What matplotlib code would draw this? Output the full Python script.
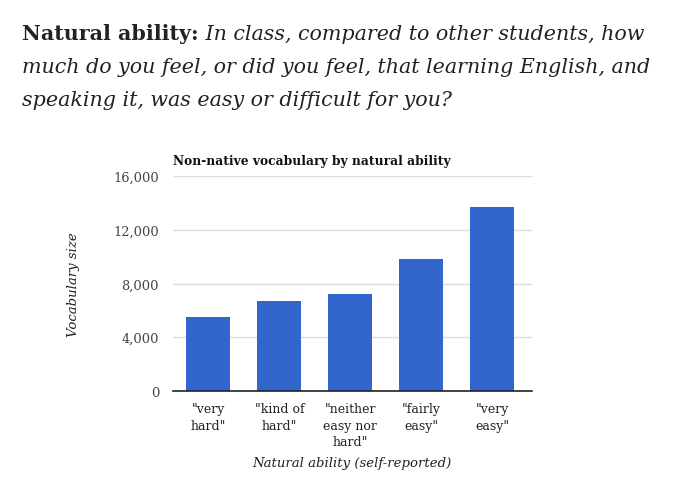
import matplotlib
matplotlib.use("Agg")
import matplotlib.pyplot as plt

categories = ['"very\nhard"', '"kind of\nhard"', '"neither\neasy nor\nhard"', '"fairly\neasy"', '"very\neasy"']
values = [5480, 6670, 7190, 9810, 13680]
yticks = [0, 4000, 8000, 12000, 16000]
ytick_labels = ["0", "4,000", "8,000", "12,000", "16,000"]

heading_bold = "Natural ability:"
heading_lines = [" In class, compared to other students, how",
                 "much do you feel, or did you feel, that learning English, and",
                 "speaking it, was easy or difficult for you?"]
chart_title = "Non-native vocabulary by natural ability"
xlabel = "Natural ability (self-reported)"
ylabel = "Vocabulary size"

SERIF = "DejaVu Serif"
W, H = 690, 485
fig = plt.figure(figsize=(6.9, 4.85), dpi=100)
fig.patch.set_facecolor("white")

# Heading
hs = 14.9
t0 = fig.text(22 / W, 1 - 40 / H, heading_bold, fontsize=hs, fontweight="bold",
              family=SERIF, color="#222222", va="baseline", ha="left")
fig.canvas.draw()
r = fig.canvas.get_renderer()
bb = t0.get_window_extent(renderer=r)
fig.text(bb.x1 / W, 1 - 40 / H, heading_lines[0], fontsize=hs, style="italic",
         family=SERIF, color="#222222", va="baseline", ha="left")
fig.text(22 / W, 1 - 73 / H, heading_lines[1], fontsize=hs, style="italic",
         family=SERIF, color="#222222", va="baseline", ha="left")
fig.text(22 / W, 1 - 106 / H, heading_lines[2], fontsize=hs, style="italic",
         family=SERIF, color="#222222", va="baseline", ha="left")

ax = fig.add_axes([173 / W, 1 - 392 / H, (532 - 173) / W, (392 - 177) / H])
x = list(range(len(categories)))
ax.bar(x, values, width=0.62, color="#3366cc", zorder=3)
ax.set_xlim(-0.5, 4.56)
ax.set_ylim(0, 16000)
ax.set_yticks(yticks)
ax.set_yticklabels(ytick_labels, family=SERIF, fontsize=9.4, color="#444444")
ax.set_xticks(x)
ax.set_xticklabels(categories, family=SERIF, fontsize=9, color="#222222", linespacing=1.35)
ax.tick_params(axis="both", length=0)
ax.tick_params(axis="y", pad=10)
ax.tick_params(axis="x", pad=8)
for s in ["top", "right", "left"]:
    ax.spines[s].set_visible(False)
ax.spines["bottom"].set_color("#222222")
ax.spines["bottom"].set_linewidth(1.2)
ax.spines["bottom"].set_zorder(4)
ax.grid(axis="y", color="#dddddd", linewidth=1, zorder=0)

fig.text(173 / W, 1 - 165 / H, chart_title, fontsize=8.8, fontweight="bold",
         family=SERIF, color="#111111", va="baseline", ha="left")
fig.text(352 / W, 1 - 467 / H, xlabel, fontsize=9.5, style="italic",
         family=SERIF, color="#222222", va="baseline", ha="center")
fig.text(73 / W, 1 - 285 / H, ylabel, fontsize=9.5, style="italic",
         family=SERIF, color="#222222", va="center", ha="center", rotation=90)

fig.savefig("out.png", dpi=100, facecolor="white")
